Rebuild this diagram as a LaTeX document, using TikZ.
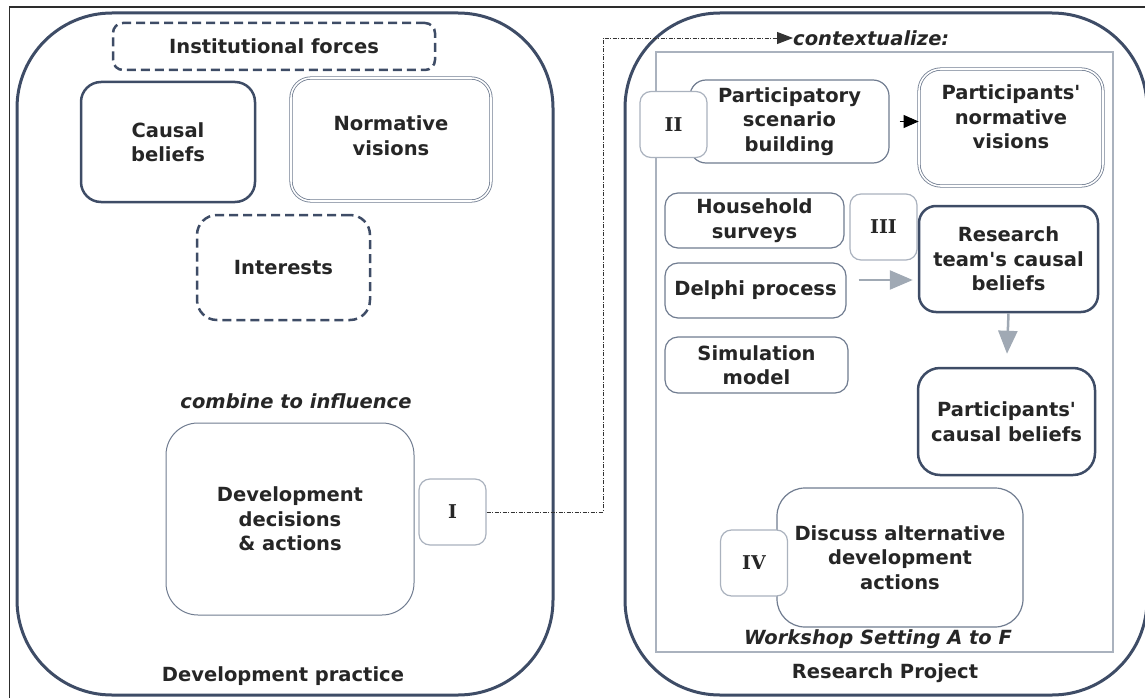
\documentclass[tikz,border=0pt]{standalone}
\usepackage{fontspec}
\setmainfont{DejaVu Sans}[Ligatures=TeXOff]
\newfontfamily\numfont{DejaVu Serif}
\usetikzlibrary{arrows.meta}
\definecolor{navy}{RGB}{62,76,102}
\definecolor{slate}{RGB}{112,124,144}
\definecolor{lgray}{RGB}{170,178,190}
\definecolor{agray}{RGB}{160,169,180}
\definecolor{framec}{RGB}{45,45,45}
\begin{document}
\begin{tikzpicture}[x=1pt,y=-1pt,
  every node/.style={font=\fontsize{19.5}{24.5}\selectfont\bfseries, align=center, inner sep=0pt, text=black!85},
  bigbox/.style={draw=navy, line width=3pt, rounded corners=95pt},
  thickbox/.style={draw=navy, line width=2.5pt, fill=white},
  thinbox/.style={draw=slate, line width=1.2pt, fill=white},
  lightbox/.style={draw=lgray, line width=1.2pt, fill=white},
  dblbox/.style={draw=slate, line width=0.8pt, double=white, double distance=1.6pt, fill=white},
  dashbox/.style={draw=navy, line width=2.5pt, dash pattern=on 9pt off 5pt, fill=white},
  numbox/.style={lightbox, rounded corners=11pt, minimum width=67pt, minimum height=66pt, font=\numfont\bfseries\fontsize{19}{22}\selectfont},
  itext/.style={font=\fontsize{19.5}{24.5}\selectfont\bfseries\itshape},
  conn/.style={draw=black!80, line width=0.9pt, dash pattern=on 4pt off 1.5pt on 1pt off 1.5pt},
  grayarrow/.style={draw=agray, line width=2.5pt, -{Triangle[length=23pt,width=19pt]}}
]
\useasboundingbox (0,0) rectangle (1145,698);
\clip (0,0) rectangle (1145,698);
\draw[framec, line width=1.5pt] (9.5,720) -- (9.5,7) -- (1170,7) -- (1170,720);

% left side
\node[bigbox, minimum width=536pt, minimum height=682pt] (devprac) at (285,354) {};
\node[dashbox, rounded corners=10pt, minimum width=322pt, minimum height=47pt] (inst) at (274,46.5) {Institutional forces};
\node[thickbox, rounded corners=20pt, minimum width=174pt, minimum height=120pt] (causal) at (168,142) {Causal\\beliefs};
\node[dblbox, rounded corners=20pt, minimum width=200pt, minimum height=123pt] (norm) at (391,139.5) {Normative\\visions\rule[-8pt]{0pt}{0pt}};
\node[dashbox, rounded corners=20pt, minimum width=173pt, minimum height=105pt] (inter) at (283.5,267.5) {Interests};
\node[itext] (combine) at (296,401) {combine to influence};
\node[draw=slate, line width=1pt, fill=white, rounded corners=32pt, minimum width=248pt, minimum height=192pt] (devdec) at (290,519) {Development\\decisions\\\&~actions};
\node[numbox] (one) at (452.5,512) {I};
\node (devpraclab) at (283,676) {Development practice};

% right side
\node[bigbox, minimum width=522pt, minimum height=682pt] (resproj) at (886,354) {};
\draw[lgray, line width=1.8pt] (656,52) rectangle (1113,652);
\node[itext, anchor=west] (ctx) at (793,38) {contextualize:};

\node[thinbox, rounded corners=16pt, minimum width=199pt, minimum height=83pt] (partic) at (789.5,121.5) {Participatory\\scenario\\building};
\node[numbox] (two) at (673.5,124.5) {II};
\node[dblbox, rounded corners=22pt, minimum width=184pt, minimum height=117pt] (pnorm) at (1011,127.5) {Participants'\\normative\\visions\rule[-21pt]{0pt}{0pt}};

\node[thinbox, rounded corners=13pt, minimum width=179pt, minimum height=55pt] (house) at (754.5,220.5) {Household\\surveys};
\node[numbox] (three) at (883.5,227) {III};
\node[thickbox, rounded corners=17pt, minimum width=179pt, minimum height=106pt] (research) at (1008.5,259) {Research\\team's causal\\beliefs};
\node[thinbox, rounded corners=13pt, minimum width=181pt, minimum height=55pt] (delphi) at (755.5,290.5) {Delphi process};
\node[thinbox, rounded corners=13pt, minimum width=183pt, minimum height=56pt] (simul) at (756.5,365) {Simulation\\model};
\node[thickbox, rounded corners=22pt, minimum width=177pt, minimum height=107pt] (pcausal) at (1006.5,421.5) {Participants'\\causal beliefs};

\node[thinbox, rounded corners=28pt, minimum width=246pt, minimum height=139pt] (discuss) at (900,557.5) {Discuss alternative\\development\\actions};
\node[numbox] (four) at (754,563) {IV};
\node[itext] (workshop) at (878,639) {Workshop Setting A to F};
\node (resprojlab) at (885,673) {Research Project};

% connectors
\coordinate (bend) at (603,512);
\draw[conn, -{Triangle[length=16pt,width=12pt]}] (one.east) -- (bend) |- (ctx.west);
\draw[draw=black, line width=1pt, -{Triangle[length=15pt,width=13pt]}, shorten <=10pt] (partic.east) -- (partic.east -| pnorm.west);
\draw[grayarrow] ([xshift=12pt,yshift=10.5pt]delphi.east) -- ([xshift=-5pt,yshift=-21pt]research.west);
\draw[grayarrow, shorten >=13pt] (research.south) -- (pcausal.north);
\end{tikzpicture}
\end{document}
